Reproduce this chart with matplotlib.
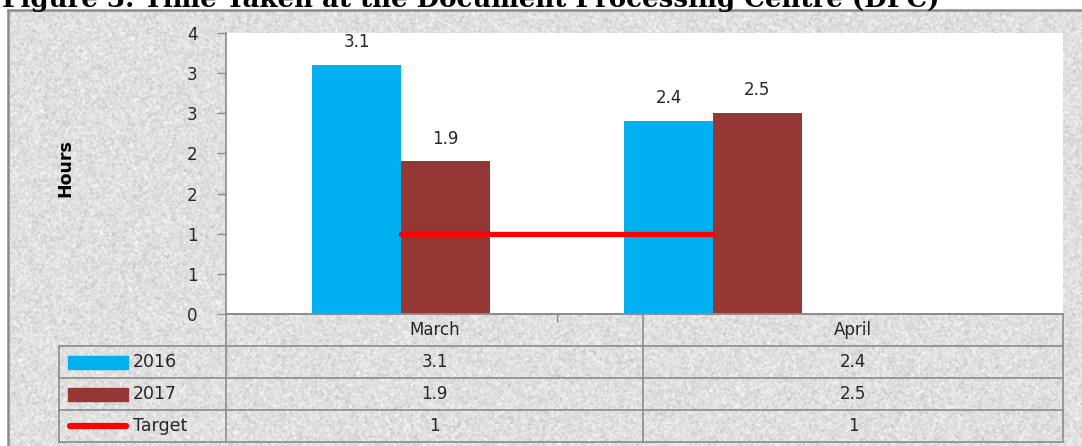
import numpy as np
import matplotlib
matplotlib.use("Agg")
import matplotlib.pyplot as plt
from matplotlib.ticker import FixedLocator, FuncFormatter
from matplotlib.patches import Rectangle
from matplotlib.lines import Line2D

# ─── Data ─────────────────────────────────────────────────────────────────────
months = ["March", "April"]
series_names = ["2016", "2017", "Target"]
hours_2016 = [3.1, 2.4]
hours_2017 = [1.9, 2.5]
target = [1, 1]

TITLE = "Figure 3: Time Taken at the Document Processing Centre (DPC)"

# ─── Style ────────────────────────────────────────────────────────────────────
BLUE = "#00B0F0"
BROWN = "#953735"
RED = "#FF0000"
GRID_GRAY = "#8c8c8c"
TEXT = "#262626"
FONT = ["DejaVu Sans"]

W, H, DPI = 1082, 446, 100
fig = plt.figure(figsize=(W / DPI, H / DPI), dpi=DPI)
fig.patch.set_facecolor("white")


def px(x, y):
    """Pixel position (from top-left) -> figure fraction."""
    return x / W, 1 - y / H


# ─── Granite-like backdrop inside the frame ───────────────────────────────────
rng = np.random.default_rng(7)
tex = rng.normal(0, 1, (H, W))
k = np.array([0.25, 0.5, 0.25])
tex = np.apply_along_axis(lambda r: np.convolve(r, k, mode="same"), 1, tex)
tex = np.apply_along_axis(lambda c: np.convolve(c, k, mode="same"), 0, tex)
tex = 0.875 + 0.028 * tex / tex.std()
bg = fig.add_axes([8 / W, 0, 1 - 8 / W, 1 - 10 / H])
bg.imshow(np.clip(tex, 0, 1), cmap="gray", vmin=0, vmax=1,
          aspect="auto", interpolation="nearest")
bg.set_axis_off()
bg.set_zorder(-10)

# outer frame (left and top edges)
fig.add_artist(Line2D([8 / W, 8 / W], [0, 1 - 10 / H], color=GRID_GRAY, lw=1.8))
fig.add_artist(Line2D([8 / W, 1], [1 - 10 / H, 1 - 10 / H], color=GRID_GRAY, lw=1.8))

# ─── Title (sits partly above the canvas) ─────────────────────────────────────
title = fig.text(2 / W, 1 - 7.5 / H, TITLE, fontsize=16, fontweight="bold",
                 family=["DejaVu Serif"], va="baseline", ha="left", color="black")
renderer = fig.canvas.get_renderer()
tw = title.get_window_extent(renderer).width
title.set_fontsize(16 * 935 / tw)

# ─── Chart ────────────────────────────────────────────────────────────────────
left, right, top, bottom = 226, 1063, 33, 314
ax = fig.add_axes([left / W, 1 - bottom / H, (right - left) / W, (bottom - top) / H])
ax.set_facecolor("white")

x = np.arange(len(months))
bw = 0.285
b1 = ax.bar(x - bw / 2, hours_2016, bw, color=BLUE, zorder=2)
b2 = ax.bar(x + bw / 2, hours_2017, bw, color=BROWN, zorder=2)
ax.plot(x, target, color=RED, lw=3.8, solid_capstyle="round", zorder=3)

for bars, vals in ((b1, hours_2016), (b2, hours_2017)):
    for rect, v in zip(bars, vals):
        ax.annotate(f"{v}", (rect.get_x() + rect.get_width() / 2, v),
                    xytext=(0, 10), textcoords="offset points",
                    ha="center", va="bottom", fontsize=12, color=TEXT,
                    family=FONT)

ax.set_xlim(-0.561, 2.122)
ax.set_ylim(0, 3.5)
ax.yaxis.set_major_locator(FixedLocator(np.arange(0, 3.51, 0.5)))
ax.yaxis.set_major_formatter(FuncFormatter(lambda v, p: f"{int(np.floor(v + 0.5))}"))
ax.set_xticks([0.5])
ax.set_xticklabels([])
ax.tick_params(axis="y", length=6.5, width=1, color=GRID_GRAY, pad=14,
               labelsize=12, labelcolor=TEXT)
ax.tick_params(axis="x", length=6, width=1, color=GRID_GRAY)
for lab in ax.get_yticklabels():
    lab.set_family(FONT)
for s in ("top", "right"):
    ax.spines[s].set_visible(False)
for s in ("left", "bottom"):
    ax.spines[s].set_color(GRID_GRAY)
    ax.spines[s].set_linewidth(1.2)

fig.text(*px(65, 168), "Hours", rotation=90, ha="center", va="center",
         fontsize=12.5, fontweight="bold",
         family=["Liberation Sans Narrow", "DejaVu Sans"], color="black")

# ─── Data table under the axis ────────────────────────────────────────────────
col_edges = [59, 226, 643, 1063]
row_edges = [314, 346, 378, 410, 442]
lw_tab = 1.2

def hline(y, x0, x1):
    fig.add_artist(Line2D([x0 / W, x1 / W], [1 - y / H] * 2, color=GRID_GRAY, lw=lw_tab))

def vline(x0, y0, y1):
    fig.add_artist(Line2D([x0 / W] * 2, [1 - y0 / H, 1 - y1 / H], color=GRID_GRAY, lw=lw_tab))

hline(row_edges[0], col_edges[1], col_edges[-1])
for y in row_edges[1:]:
    hline(y, col_edges[0], col_edges[-1])
vline(col_edges[0], row_edges[1], row_edges[-1])
for xe in col_edges[1:]:
    vline(xe, row_edges[0], row_edges[-1])

def row_center(i):
    return (row_edges[i] + row_edges[i + 1]) / 2

for j, m in enumerate(months):
    cx = (col_edges[j + 1] + col_edges[j + 2]) / 2
    fig.text(*px(cx, row_center(0)), m, ha="center", va="center",
             fontsize=12, color=TEXT, family=FONT)

table_rows = [hours_2016, hours_2017, target]
for i, (name, vals) in enumerate(zip(series_names, table_rows)):
    cy = row_center(i + 1)
    for j, v in enumerate(vals):
        cx = (col_edges[j + 1] + col_edges[j + 2]) / 2
        fig.text(*px(cx, cy), f"{v}", ha="center", va="center",
                 fontsize=12, color=TEXT, family=FONT)
    fig.text(*px(133, cy), name, ha="left", va="center",
             fontsize=12.5, color=TEXT, family=FONT)

# legend keys
for i, c in enumerate((BLUE, BROWN)):
    cy = row_center(i + 1)
    fig.add_artist(Rectangle(px(68, cy + 6.5), 60 / W, 13 / H,
                             transform=fig.transFigure, color=c))
cy = row_center(3)
fig.add_artist(Line2D([70 / W, 126 / W], [1 - cy / H] * 2, color=RED, lw=4.5,
                      solid_capstyle="round"))

fig.savefig("out.png", dpi=DPI)
